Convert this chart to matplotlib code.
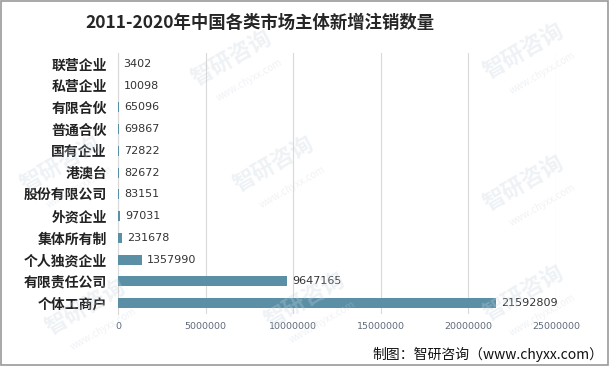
import matplotlib
matplotlib.use("Agg")
import matplotlib.pyplot as plt

plt.rcParams['font.family'] = ['Noto Sans CJK SC', 'DejaVu Sans']

# 数据（自上而下）
categories = ['联营企业', '私营企业', '有限合伙', '普通合伙', '国有企业', '港澳台',
              '股份有限公司', '外资企业', '集体所有制', '个人独资企业', '有限责任公司', '个体工商户']
values = [3402, 10098, 65096, 69867, 72822, 82672, 83151, 97031, 231678, 1357990, 9647165, 21592809]
xticks = [0, 5000000, 10000000, 15000000, 20000000, 25000000]

fig = plt.figure(figsize=(6.09, 3.66), dpi=100)
ax = fig.add_axes([118/609, 1-314/366, (556-118)/609, (314-53)/366])

pos = list(range(len(categories)))[::-1]
ax.barh(pos, values, height=0.45, color='#5b8fa6', zorder=3)
for p, v in zip(pos, values):
    ax.text(v + 300000, p, str(v), va='center', ha='left', fontsize=8,
            color='#333333', family='DejaVu Sans', zorder=4)

ax.set_ylim(-0.5, len(categories) - 0.5)
ax.set_xlim(0, 25000000)
ax.set_yticks(pos)
ax.set_yticklabels(categories, fontsize=10, fontweight='bold', color='#222222')
ax.set_xticks(xticks)
ax.set_xticklabels([str(t) for t in xticks], fontsize=6.8, color='#5f6b7a', family='DejaVu Sans')
ax.tick_params(length=0, pad=6)
ax.tick_params(axis='y', pad=8)
ax.grid(axis='x', color='#d9d9d9', linewidth=0.8, zorder=0)
for s in ['top', 'right', 'bottom']:
    ax.spines[s].set_visible(False)
ax.spines['left'].set_color('#d9d9d9')

fig.text(260/609, 1-23/366, '2011-2020年中国各类市场主体新增注销数量', ha='center', va='center',
         fontsize=12.5, fontweight='bold', color='#262626')
fig.text(603/609, 1-354/366, '制图：智研咨询（www.chyxx.com）', ha='right', va='center',
         fontsize=10, color='#111111')

# 水印
for (wx, wy) in [(0.38, 0.84), (0.86, 0.86), (0.1, 0.55), (0.45, 0.55), (0.86, 0.5),
                 (0.14, 0.16), (0.5, 0.18), (0.86, 0.2)]:
    fig.text(wx, wy, '智研咨询', rotation=30, fontsize=16, color='#c8d4e0', alpha=0.3,
             ha='center', va='center', fontweight='bold', zorder=0)
    fig.text(wx + 0.03, wy - 0.06, 'www.chyxx.com', rotation=30, fontsize=7, color='#c8d4e0',
             alpha=0.3, ha='center', va='center', zorder=0)

fig.patches.append(plt.Rectangle((0.001, 0.002), 0.997, 0.995, transform=fig.transFigure,
                                 fill=False, edgecolor='#999999', linewidth=1.2))
fig.savefig('out.png', dpi=100)
